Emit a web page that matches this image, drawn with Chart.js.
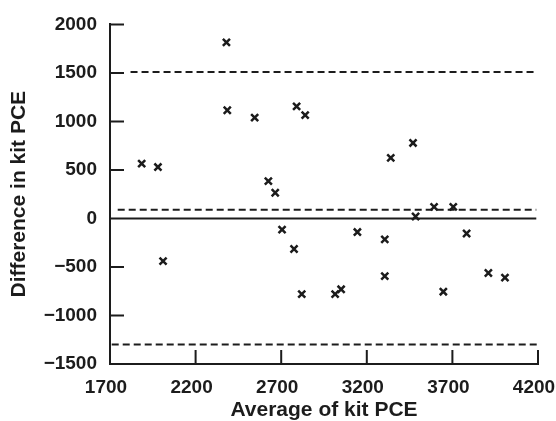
<!DOCTYPE html>
<html>
<head>
<meta charset="utf-8">
<script src="https://cdn.jsdelivr.net/npm/chart.js@4.4.0/dist/chart.umd.min.js"></script>
<style>
  html, body { margin: 0; padding: 0; overflow: hidden; background: #fff; }
  #wrap { width: 556px; height: 432px; }
</style>
</head>
<body>
<div id="wrap"><canvas id="chart" width="556" height="432"></canvas></div>
<script>
// DATI
const avgPCE = [1885, 1980, 2010, 2380, 2385, 2545, 2625, 2665, 2705, 2775, 2790, 2820, 2840, 3015,
                3050, 3145, 3305, 3305, 3340, 3470, 3485, 3593, 3647, 3705, 3783, 3910, 4007];
const diffPCE = [565, 530, -440, 1815, 1115, 1040, 385, 265, -115, -315, 1155, -780, 1065, -780,
                 -730, -140, -215, -595, 625, 778, 20, 120, -755, 120, -155, -562, -610];
const xTicks = [1700, 2200, 2700, 3200, 3700, 4200];
const yTicks = [-1500, -1000, -500, 0, 500, 1000, 1500, 2000];

// linee di riferimento: [x inizio, x fine, y]
const upperLimit = [1820, 4180, 1510];
const meanDiff   = [1745, 4190, 90];
const zeroLine   = [1700, 4190, 0];
const lowerLimit = [1710, 4195, -1300];

const ink = '#1c1c1c';
const tickFont = { family: 'Liberation Sans', size: 19, weight: 'bold' };
const titleFont = { family: 'Liberation Sans', size: 21, weight: 'bold' };

function refLine(l, dashed) {
    return {
        type: 'line',
        data: [{ x: l[0], y: l[2] }, { x: l[1], y: l[2] }],
        borderColor: ink,
        borderWidth: 2,
        borderDash: dashed ? [7, 4] : [],
        pointRadius: 0,
        fill: false
    };
}

// tacche interne agli assi
const insideTicks = {
    id: 'insideTicks',
    afterDraw(chart) {
        const { ctx, scales: { x, y } } = chart;
        ctx.save();
        ctx.strokeStyle = ink;
        ctx.lineWidth = 2;
        ctx.beginPath();
        yTicks.forEach(v => {
            if (v === -1500 || v === 0) return;
            const py = y.getPixelForValue(v);
            ctx.moveTo(x.left, py);
            ctx.lineTo(x.left + 14, py);
        });
        xTicks.forEach(v => {
            if (v === 1700) return;
            const px = x.getPixelForValue(v);
            ctx.moveTo(px, y.bottom);
            ctx.lineTo(px, y.bottom - 14);
        });
        ctx.stroke();
        ctx.restore();
    }
};

const ctx = document.getElementById('chart').getContext('2d');

const chart = new Chart(ctx, {
    type: 'scatter',
    data: {
        datasets: [
            {
                data: avgPCE.map((v, i) => ({ x: v, y: diffPCE[i] })),
                pointStyle: 'crossRot',
                pointRadius: 5,
                borderWidth: 2.5,
                borderColor: ink,
                backgroundColor: ink
            },
            refLine(upperLimit, true),
            refLine(meanDiff, true),
            refLine(zeroLine, false),
            refLine(lowerLimit, true)
        ]
    },
    options: {
        responsive: false,
        animation: false,
        layout: { padding: { top: 20, right: 0, left: 0, bottom: 0 } },
        plugins: { legend: { display: false }, tooltip: { enabled: false } },
        scales: {
            x: {
                type: 'linear',
                min: 1700,
                max: 4200,
                afterBuildTicks: s => { s.ticks = xTicks.map(v => ({ value: v })); },
                afterFit: s => { s.height = 68; s.paddingLeft = 0; s.paddingRight = 18; },
                grid: { display: false, drawTicks: false },
                border: { display: true, color: ink, width: 2 },
                ticks: { font: tickFont, color: ink, padding: 12, maxRotation: 0, labelOffset: -4,
                         callback: v => String(v) },
                title: { display: true, text: 'Average of kit PCE', font: titleFont, color: ink,
                         padding: { top: 0, bottom: 9 } }
            },
            y: {
                type: 'linear',
                min: -1500,
                max: 2000,
                afterBuildTicks: s => { s.ticks = yTicks.map(v => ({ value: v })); },
                afterFit: s => { s.width = 110; },
                grid: { display: false, drawTicks: false },
                border: { display: true, color: ink, width: 2 },
                ticks: {
                    font: tickFont, color: ink, padding: 13,
                    callback: v => String(v).replace('-', '\u2212')
                },
                title: { display: true, text: 'Difference in kit PCE', font: titleFont, color: ink,
                         padding: { top: 7, bottom: 0 } }
            }
        }
    },
    plugins: [insideTicks]
});
</script>
</body>
</html>
